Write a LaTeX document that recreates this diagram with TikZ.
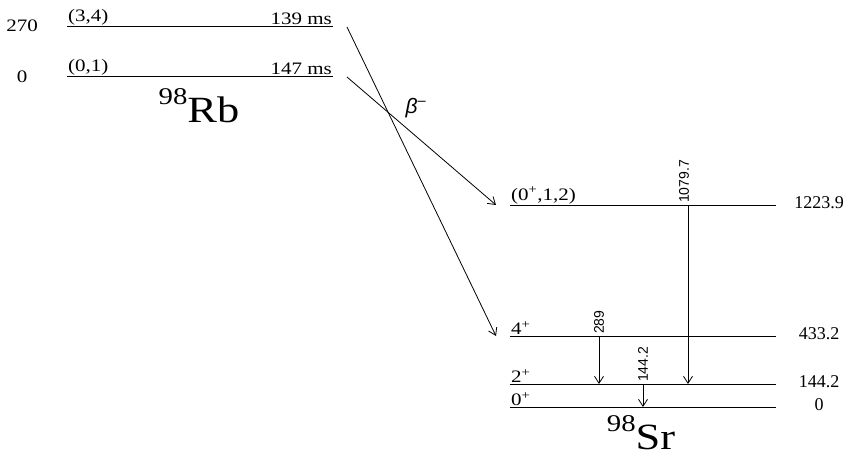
\documentclass[tikz,border=0pt]{standalone}
\usepackage{fontspec}
\setmainfont{Liberation Serif}
\newfontfamily\widefont{Liberation Serif}[FakeStretch=1.2]
\newfontfamily\sansfont{Liberation Sans}
\usetikzlibrary{arrows.meta, positioning}
\tikzset{
  lvl/.style={line width=0.9pt, color=black},
  decay/.style={-{Straight Barb[length=7pt,width=9pt]}, line width=0.8pt, color=black},
  gamma/.style={-{Straight Barb[length=7pt,width=9pt]}, line width=0.8pt, color=black},
  lvllabel/.style={font=\widefont\fontsize{17.5}{18}\selectfont, inner sep=1pt},
  enlabel/.style={font=\fontsize{18}{18}\selectfont, inner sep=1pt},
  gamlabel/.style={font=\sansfont\fontsize{14}{14}\selectfont, rotate=90, anchor=west, inner sep=2pt},
  nucl/.style={font=\widefont\fontsize{37}{37}\selectfont, anchor=base, inner sep=0pt}
}

\begin{document}
\begin{tikzpicture}[x=1pt, y=-1pt]
  \useasboundingbox (0,0) rectangle (849,456);

  % 98Rb levels
  \coordinate (rb1l) at (67,26);  \coordinate (rb1r) at (333,26);
  \coordinate (rb0l) at (67,76);  \coordinate (rb0r) at (333,76);
  \draw[lvl] (rb1l) -- (rb1r);
  \draw[lvl] (rb0l) -- (rb0r);
  \node[lvllabel] (e270) at (22,26) {270};
  \node[lvllabel] (e0) at (22,77) {0};
  \node[lvllabel, anchor=south west] (j1) at (rb1l) {(3,4)};
  \node[lvllabel, anchor=south east] (t1) at (rb1r) {139 ms};
  \node[lvllabel, anchor=south west] (j0) at (rb0l) {(0,1)};
  \node[lvllabel, anchor=south east] (t0) at (rb0r) {147 ms};
  \node[nucl] (rb) at (199,122) {\raisebox{18pt}{\fontsize{24}{24}\selectfont 98}Rb};

  % 98Sr levels
  \coordinate (sr3l) at (510,205);  \coordinate (sr3r) at (776,205);
  \coordinate (sr2l) at (510,336);  \coordinate (sr2r) at (776,336);
  \coordinate (sr1l) at (510,384);  \coordinate (sr1r) at (776,384);
  \coordinate (sr0l) at (510,407);  \coordinate (sr0r) at (776,407);
  \draw[lvl] (sr3l) -- (sr3r);
  \draw[lvl] (sr2l) -- (sr2r);
  \draw[lvl] (sr1l) -- (sr1r);
  \draw[lvl] (sr0l) -- (sr0r);
  \node[lvllabel, anchor=south west] (s3) at (sr3l) {(0\textsuperscript{+},1,2)};
  \node[lvllabel, anchor=south west] (s2) at (sr2l) {4\textsuperscript{+}};
  \node[lvllabel, anchor=south west] (s1) at (sr1l) {2\textsuperscript{+}};
  \node[lvllabel, anchor=south west] (s0) at (sr0l) {0\textsuperscript{+}};
  \node[enlabel] (en3) at (819,203) {1223.9};
  \node[enlabel] (en2) at (819,334) {433.2};
  \node[enlabel] (en1) at (819,382) {144.2};
  \node[enlabel] (en0) at (819,405) {0};
  \node[nucl] (sr) at (641,449) {\raisebox{18pt}{\fontsize{24}{24}\selectfont 98}Sr};

  % beta decays
  \coordinate (b1) at (347,27);  \coordinate (b1e) at (496,336);
  \coordinate (b0) at (347,77);  \coordinate (b0e) at (496,205);
  \draw[decay] (b1) -- (b1e);
  \draw[decay] (b0) -- (b0e);
  \node[font=\sansfont\itshape\fontsize{21}{21}\selectfont, inner sep=0pt] (beta) at (416,108) {β\textsuperscript{–}};

  % gamma transitions
  \coordinate (g1t) at (688,205);  \coordinate (g1b) at (688,384);
  \coordinate (g2t) at (599,336);  \coordinate (g2b) at (599,384);
  \coordinate (g3t) at (643,384);  \coordinate (g3b) at (643,407);
  \draw[gamma] (g1t) -- (g1b);
  \draw[gamma] (g2t) -- (g2b);
  \draw[gamma] (g3t) -- (g3b);
  \node[gamlabel] (l1) at ([xshift=-4pt]g1t) {1079.7};
  \node[gamlabel] (l2) at (g2t) {289};
  \node[gamlabel] (l3) at (g3t) {144.2};
\end{tikzpicture}
\end{document}
